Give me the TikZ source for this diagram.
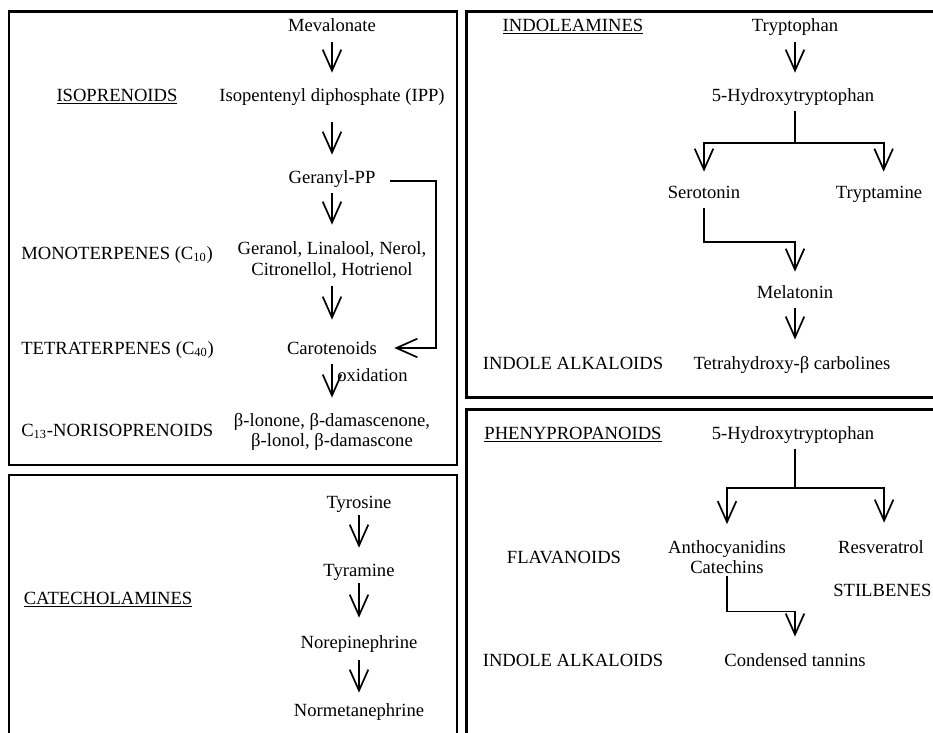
\documentclass[tikz,border=0pt]{standalone}
\usepackage{fontspec}
\setmainfont{Liberation Serif}
\usetikzlibrary{arrows.meta}

\begin{document}
\begin{tikzpicture}[
      x=0.645pt, y=-0.645pt,
      every node/.style={font=\fontsize{12}{13}\selectfont, inner sep=0pt},
      chem/.style={text height=9.5pt, text depth=1.5pt},
      cls/.style={chem},
      duo/.style={align=center},
      panel/.style={line width=1.4pt},
      link/.style={line width=1.1pt, shorten <=4.8pt},
      conv/.style={link, -{Straight Barb[length=13.5pt,width=12pt]}, shorten >=8.7pt}
      ]
      \useasboundingbox (0,0) rectangle (933,733);
      \clip (0,0) rectangle (933,733);
      \draw[panel] (9,11.5) rectangle (457,465);
      \draw[panel] (9,475) rectangle (457,760);
      \draw[panel] (466.5,11.5) rectangle (960,397.5);
      \draw[panel] (466.5,409.5) rectangle (960,760);

      \node[cls] (isolbl) at (117,95) {\underline{ISOPRENOIDS}};
      \node[cls, anchor=west] (monolbl) at (21,253) {MONOTERPENES (C\textsubscript{10})};
      \node[cls, anchor=west] (tetralbl) at (21,348) {TETRATERPENES (C\textsubscript{40})};
      \node[cls, anchor=west] (norlbl) at (21,430) {C\textsubscript{13}-NORISOPRENOIDS};
      \node[chem] (mev) at (332,25) {Mevalonate};
      \node[chem] (ipp) at (332,95) {Isopentenyl diphosphate (IPP)};
      \node[chem] (ger) at (332,177) {Geranyl-PP};
      \node[duo] (mono) at (332,260) {Geranol, Linalool, Nerol,\\Citronellol, Hotrienol};
      \node[chem] (car) at (332,348) {Carotenoids};
      \node[duo] (noriso) at (332,432) {β-lonone, β-damascenone,\\β-lonol, β-damascone};
      \node[chem, anchor=west] (oxi) at (337,375) {oxidation};
      \draw[conv, shorten <=5.5pt] (mev) -- (ipp);
      \draw[conv, shorten <=12pt] (ipp) -- (ger);
      \draw[conv, shorten >=11pt] (ger) -- (mono);
      \draw[conv, shorten >=12.6pt] (mono) -- (car);
      \draw[conv, shorten >=10pt] (car) -- (noriso);
      \draw[conv, shorten <=9pt, shorten >=11pt] ([yshift=-2.5pt]ger.east) -- ++(60,0) |- (car.east);

      \node[cls] (catlbl) at (108,598) {\underline{CATECHOLAMINES}};
      \node[chem] (tyr) at (359,502) {Tyrosine};
      \node[chem] (tyra) at (359,570) {Tyramine};
      \node[chem] (nore) at (359,642) {Norepinephrine};
      \node[chem] (norm) at (359,710) {Normetanephrine};
      \draw[conv, shorten <=2.9pt] (tyr) -- (tyra);
      \draw[conv, shorten <=2.9pt, shorten >=10pt] (tyra) -- (nore);
      \draw[conv, shorten <=6pt, shorten >=5.5pt] (nore) -- (norm);

      \node[cls] (indlbl) at (573,25) {\underline{INDOLEAMINES}};
      \node[cls] (alklbl) at (573,363) {INDOLE ALKALOIDS};
      \node[chem] (trp) at (795,25) {Tryptophan};
      \node[chem] (htp) at (793,95) {5-Hydroxytryptophan};
      \node[chem] (ser) at (704,192) {Serotonin};
      \node[chem] (tpa) at (879,192) {Tryptamine};
      \node[chem] (mel) at (795,292) {Melatonin};
      \node[chem] (thc) at (792,363) {Tetrahydroxy-β carbolines};
      \coordinate (fork) at (795,143);
      \draw[conv, shorten <=5.5pt] (trp.south) -- (trp.south |- htp.north);
      \draw[link] (fork |- htp.south) -- (fork);
      \draw[conv, shorten <=0pt, shorten >=7.4pt] (fork) -| (ser.north);
      \draw[conv, shorten <=0pt, shorten >=7.4pt] (fork) -| ([xshift=3pt]tpa.north);
      \draw[conv, shorten >=7.4pt] (ser.south) -- ++(0,41.5) -| (mel.north);
      \draw[conv, shorten >=9.4pt] (mel) -- (mel |- thc.north);

      \node[cls] (phelbl) at (573,433) {\underline{PHENYPROPANOIDS}};
      \node[cls] (flalbl) at (564,557) {FLAVANOIDS};
      \node[cls] (alklblb) at (573,660) {INDOLE ALKALOIDS};
      \node[chem] (htpb) at (793,433) {5-Hydroxytryptophan};
      \node[duo] (antho) at (727,557.5) {Anthocyanidins\\Catechins};
      \node[chem] (res) at (881,547) {Resveratrol};
      \node[cls, anchor=west] (stil) at (833,590) {STILBENES};
      \node[chem] (tan) at (795,660) {Condensed tannins};
      \coordinate (forkb) at (795,488);
      \draw[link] (forkb |- htpb.south) -- (forkb);
      \draw[conv, shorten <=0pt, shorten >=10.6pt] (forkb) -| (antho.north);
      \draw[conv, shorten <=0pt, shorten >=10pt] (forkb) -| ([xshift=2pt]res.north);
      \draw[conv, shorten <=1pt, shorten >=9.4pt] (antho.south) -- ++(0,37) -| (tan.north);
    \end{tikzpicture}
\end{document}
